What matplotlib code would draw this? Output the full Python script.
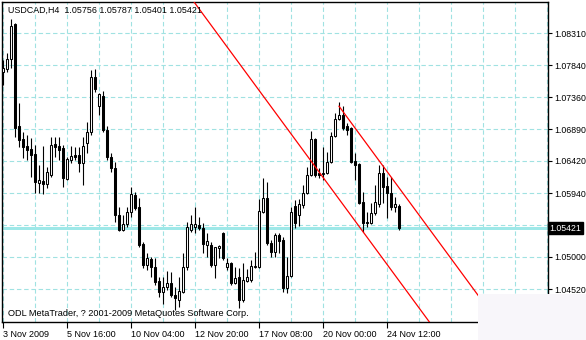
import matplotlib
matplotlib.use("Agg")
import matplotlib.pyplot as plt
from matplotlib.patches import Rectangle

# USDCAD H4 candles, bar index 0..99
opens = [1.0774, 1.0778, 1.0793, 1.0845, 1.0694, 1.0674, 1.0664, 1.0660, 1.0652, 1.0609,
         1.0612, 1.0608, 1.0621, 1.0667, 1.0664, 1.0661, 1.0615, 1.0643, 1.0651, 1.0651,
         1.0639, 1.0668, 1.0685, 1.0766, 1.0723, 1.0738, 1.0688, 1.0648, 1.0631, 1.0562,
         1.0540, 1.0548, 1.0566, 1.0591, 1.0574, 1.0519, 1.0488, 1.0497, 1.0485, 1.0464,
         1.0448, 1.0455, 1.0461, 1.0443, 1.0436, 1.0448, 1.0485, 1.0540, 1.0544, 1.0547,
         1.0543, 1.0517, 1.0517, 1.0488, 1.0513, 1.0535, 1.0485, 1.0491, 1.0461, 1.0470,
         1.0436, 1.0464, 1.0465, 1.0485, 1.0485, 1.0566, 1.0587, 1.0520, 1.0507, 1.0532,
         1.0525, 1.0454, 1.0471, 1.0575, 1.0562, 1.0577, 1.0594, 1.0621, 1.0674, 1.0624,
         1.0623, 1.0624, 1.0640, 1.0679, 1.0704, 1.0710, 1.0694, 1.0691, 1.0642, 1.0637,
         1.0581, 1.0551, 1.0550, 1.0565, 1.0578, 1.0624, 1.0605, 1.0594, 1.0574, 1.05756]
highs = [1.0791, 1.0802, 1.0852, 1.0846, 1.0728, 1.0685, 1.0680, 1.0676, 1.0666, 1.0636,
         1.0664, 1.0633, 1.0677, 1.0677, 1.0677, 1.0666, 1.0648, 1.0664, 1.0663, 1.0663,
         1.0677, 1.0700, 1.0777, 1.0778, 1.0743, 1.0746, 1.0694, 1.0654, 1.0640, 1.0574,
         1.0562, 1.0574, 1.0603, 1.0596, 1.0587, 1.0522, 1.0505, 1.0499, 1.0498, 1.0470,
         1.0470, 1.0479, 1.0477, 1.0455, 1.0470, 1.0505, 1.0551, 1.0562, 1.0574, 1.0559,
         1.0550, 1.0535, 1.0522, 1.0514, 1.0517, 1.0537, 1.0498, 1.0492, 1.0485, 1.0483,
         1.0491, 1.0482, 1.0495, 1.0507, 1.0585, 1.0617, 1.0611, 1.0525, 1.0535, 1.0535,
         1.0529, 1.0499, 1.0574, 1.0584, 1.0585, 1.0606, 1.0633, 1.0686, 1.0676, 1.0631,
         1.0663, 1.0655, 1.0685, 1.0713, 1.0729, 1.0723, 1.0698, 1.0692, 1.0654, 1.0639,
         1.0596, 1.0566, 1.0580, 1.0606, 1.0636, 1.0636, 1.0618, 1.0618, 1.0588, 1.05787]
lows = [1.0754, 1.0774, 1.0780, 1.0677, 1.0663, 1.0646, 1.0643, 1.0618, 1.0594, 1.0594,
        1.0593, 1.0602, 1.0618, 1.0648, 1.0643, 1.0603, 1.0614, 1.0639, 1.0643, 1.0625,
        1.0606, 1.0654, 1.0680, 1.0744, 1.0710, 1.0685, 1.0643, 1.0625, 1.0551, 1.0538,
        1.0538, 1.0544, 1.0559, 1.0569, 1.0514, 1.0483, 1.0480, 1.0470, 1.0458, 1.0440,
        1.0430, 1.0451, 1.0440, 1.0421, 1.0425, 1.0446, 1.0480, 1.0537, 1.0535, 1.0540,
        1.0506, 1.0499, 1.0485, 1.0468, 1.0498, 1.0495, 1.0480, 1.0458, 1.0459, 1.0424,
        1.0433, 1.0463, 1.0463, 1.0483, 1.0483, 1.0565, 1.0517, 1.0499, 1.0499, 1.0506,
        1.0448, 1.0446, 1.0470, 1.0543, 1.0546, 1.0572, 1.0593, 1.0620, 1.0618, 1.0617,
        1.0614, 1.0623, 1.0639, 1.0677, 1.0703, 1.0688, 1.0680, 1.0639, 1.0614, 1.0578,
        1.0537, 1.0544, 1.0548, 1.0562, 1.0574, 1.0580, 1.0557, 1.0569, 1.0566, 1.05401]
closes = [1.0780, 1.0793, 1.0842, 1.0691, 1.0673, 1.0663, 1.0658, 1.0651, 1.0611, 1.0614,
          1.0608, 1.0626, 1.0666, 1.0663, 1.0658, 1.0617, 1.0645, 1.0649, 1.0648, 1.0639,
          1.0664, 1.0685, 1.0766, 1.0748, 1.0741, 1.0688, 1.0648, 1.0631, 1.0562, 1.0540,
          1.0548, 1.0566, 1.0593, 1.0572, 1.0517, 1.0488, 1.0498, 1.0485, 1.0462, 1.0448,
          1.0455, 1.0461, 1.0443, 1.0439, 1.0449, 1.0485, 1.0544, 1.0548, 1.0548, 1.0543,
          1.0519, 1.0523, 1.0488, 1.0514, 1.0516, 1.0498, 1.0491, 1.0461, 1.0468, 1.0436,
          1.0465, 1.0470, 1.0486, 1.0486, 1.0568, 1.0587, 1.0520, 1.0507, 1.0532, 1.0523,
          1.0454, 1.0471, 1.0566, 1.0550, 1.0578, 1.0594, 1.0621, 1.0674, 1.0621, 1.0621,
          1.0624, 1.0640, 1.0679, 1.0704, 1.0710, 1.0691, 1.0688, 1.0640, 1.0636, 1.0580,
          1.0550, 1.0550, 1.0565, 1.0581, 1.0624, 1.0603, 1.0594, 1.0574, 1.0578, 1.05421]

bid = 1.05421
price_ticks = [1.08310, 1.07840, 1.07360, 1.06890, 1.06420, 1.05940, 1.05470, 1.05000, 1.04520]
date_bars = [0, 16, 32, 48, 64, 80, 96]
date_labels = ["3 Nov 2009", "5 Nov 16:00", "10 Nov 04:00", "12 Nov 20:00",
               "17 Nov 08:00", "20 Nov 00:00", "24 Nov 12:00"]

# channel: anchor bar / price of each line, common slope per bar
chan_bars = [84, 90]
chan_prices = [1.0723, 1.0537]
chan_slope = -0.000806

title = "USDCAD,H4  1.05756 1.05787 1.05401 1.05421"
footer = "ODL MetaTrader, ? 2001-2009 MetaQuotes Software Corp."

plt.rcParams['font.family'] = ['Liberation Sans', 'DejaVu Sans']
W, H = 586, 340
fig = plt.figure(figsize=(W / 100, H / 100), dpi=100)
fig.patch.set_facecolor("white")
ax = fig.add_axes([2 / W, 18 / H, 546 / W, 320 / H])

xmin, xmax = -0.25, 136.25
ymin, ymax = 1.04032, 1.08774
ax.set_xlim(xmin, xmax)
ax.set_ylim(ymin, ymax)

grid_col = "#a0e2e2"
for p in price_ticks:
    ax.axhline(p, color=grid_col, lw=0.8, ls=(0, (4, 2.5)), zorder=0)
for b in range(0, 137, 8):
    ax.axvline(b, color=grid_col, lw=0.8, ls=(0, (4, 2.5)), zorder=0)

ax.axhline(bid, color="#9ee8e8", lw=1.0, zorder=1, antialiased=False)

# candles
for i in range(len(opens)):
    o, h, l, c = opens[i], highs[i], lows[i], closes[i]
    ax.vlines(i, l, h, color="black", lw=0.8, zorder=2)
    lo, hi = min(o, c), max(o, c)
    fc = "white" if c >= o else "black"
    ax.add_patch(Rectangle((i - 0.25, lo), 0.5, max(hi - lo, 0.00005),
                           facecolor=fc, edgecolor="black", lw=0.75, zorder=3))

# channel lines
for b0, p0 in zip(chan_bars, chan_prices):
    x0 = b0 if b0 == chan_bars[0] else xmin
    xs = [x0, xmax]
    ys = [p0 + chan_slope * (x - b0) for x in xs]
    ax.plot(xs, ys, color="red", lw=0.9, zorder=4)

ax.text(1.2, 1.08656, title, fontsize=6.4, va="center", ha="left", zorder=6)
ax.text(1.2, 1.04155, footer, fontsize=6.6, va="center", ha="left", zorder=6)

for s in ax.spines.values():
    s.set_color("black")
    s.set_linewidth(1.0)

ax.yaxis.tick_right()
ax.set_yticks(price_ticks)
ax.set_yticklabels(["%.5f" % p if abs(p - 1.0547) > 1e-6 else "" for p in price_ticks],
                   fontsize=6.3)
ax.tick_params(axis="y", direction="out", length=3, width=0.8, pad=1.5)
ax.set_xticks(date_bars)
ax.set_xticklabels(date_labels, fontsize=6.5, ha="left")
ax.tick_params(axis="x", direction="out", length=4, width=0.8, pad=1.5)

# current price box on the right scale
ax.text(1.003, (bid - ymin) / (ymax - ymin), "%.5f" % bid, transform=ax.transAxes,
        fontsize=6.3, color="white", va="center", ha="left",
        bbox=dict(boxstyle="square,pad=0.15", fc="black", ec="black"), zorder=7,
        clip_on=False)

# pale patch over the lower right corner
fig.patches.append(Rectangle((478 / W, 0), (W - 478) / W, 46 / H, transform=fig.transFigure,
                             facecolor="#f8f6fa", edgecolor="none", zorder=20))

fig.savefig("out.png", dpi=100, facecolor="white")
